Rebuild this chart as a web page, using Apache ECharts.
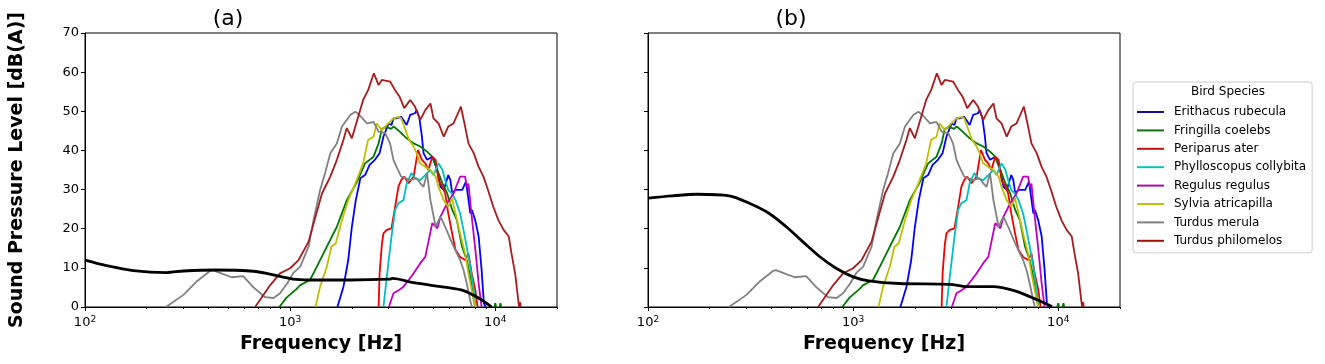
<!DOCTYPE html>
<html>
<head>
<meta charset="utf-8">
<script src="https://cdn.jsdelivr.net/npm/echarts@6/dist/echarts.min.js"></script>
<style>
  html, body { margin: 0; padding: 0; background: #fff; }
  #chart { width: 1325px; height: 364px; }
</style>
</head>
<body>
<div id="chart"></div>
<script>
// [frequency Hz, level dB(A)]
const erithacus = [[1700,0],[1820,5.2],[1920,12],[2000,20.5],[2090,27.3],[2200,32.9],[2320,33.7],[2440,36.3],[2590,37.6],[2730,39.3],[2850,43.5],[3020,46.9],[3120,46.5],[3190,48.2],[3300,48.2],[3480,48.6],[3700,46.5],[3850,49.1],[4060,49.5],[4140,50.3],[4270,48.2],[4390,43.5],[4470,39.3],[4650,37.6],[4930,38.4],[5220,35],[5410,30.7],[5610,29.9],[5900,33.7],[6040,32.4],[6170,29],[6400,29.9],[6900,29.9],[7200,32],[7560,23.9],[7700,24.8],[8000,22],[8300,18],[8580,9.5],[8800,1],[8980,0]];
const fringilla = [[886,0],[960,2.4],[1070,4.5],[1120,5.6],[1250,6.9],[1350,10.3],[1510,15.4],[1690,20.5],[1890,27.3],[2100,31.6],[2320,36.7],[2550,38.4],[2700,41.8],[2800,45.5],[2950,46],[3100,45.5],[3200,46.1],[3420,44.8],[3700,43.1],[4000,41.8],[4310,41],[4650,39.7],[4930,38.4],[5220,35],[5530,31.6],[5830,29],[6170,24.8],[6500,22.2],[6890,15.4],[7260,12],[7560,7.7],[7850,1.8],[8000,0],null,[9900,0],[10000,1],[10100,0],null,[10500,0],[10600,1],[10700,0]];
const periparus = [[2700,0],[2730,8.6],[2800,16],[2850,18.8],[2960,19.7],[3120,20.1],[3250,25.6],[3370,30.7],[3480,32.4],[3600,33.3],[3780,31.6],[4000,33.3],[4200,40.1],[4390,37.6],[4560,36.7],[4720,35],[4930,38.4],[5120,37.6],[5290,32.4],[5530,30.7],[5700,29],[5900,23.9],[6160,18.8],[6400,14.6],[6740,12.8],[7130,12],[7400,13.7],[7680,8.6],[8000,4.3],[8200,0]];
const phylloscopus = [[2850,0],[2960,7.7],[3120,18],[3250,24.8],[3370,26.5],[3570,27.3],[3700,31.6],[3900,34.2],[4060,32.9],[4310,32.4],[4560,33.7],[4830,35],[5000,33.7],[5290,36.7],[5530,35],[5700,32.4],[5900,29.9],[6160,29],[6400,27.3],[6740,23.9],[7000,19.7],[7260,15.4],[7560,10.3],[7850,4.3],[8020,0]];
const regulus = [[3030,0],[3190,3.5],[3380,4.3],[3570,5.2],[3780,6.9],[4000,8.6],[4310,11.2],[4560,12.8],[4930,21.4],[5220,20.1],[5410,23.1],[5830,26.5],[6260,29],[6740,33.3],[7130,33.3],[7260,30.7],[7400,31.5],[7680,23.1],[8000,14.6],[8300,6],[8580,0]];
const sylvia = [[1330,0],[1400,5.2],[1510,10.3],[1590,15.4],[1670,16.3],[1790,22.2],[1920,27.3],[2080,31.6],[2270,36.7],[2400,42.7],[2550,43.5],[2640,46.9],[2800,45.2],[2960,46.5],[3190,48.2],[3380,48.6],[3480,48.2],[3600,46.1],[3800,42.7],[4000,41],[4140,39.3],[4300,36.7],[4560,35.8],[4830,35],[5120,33.3],[5290,30.7],[5610,27.3],[5900,25.6],[6160,27.8],[6400,23.9],[6740,18.8],[7130,13.7],[7400,8.6],[7680,4.3],[8000,0]];
const turdusMerula = [[248,0],[302,3.1],[350,6.5],[407,9.2],[420,9.4],[472,8.4],[520,7.6],[590,7.9],[663,5],[755,2.5],[830,2.3],[893,3.5],[967,6],[1040,8.8],[1120,10.3],[1230,15.4],[1300,22.2],[1400,29.9],[1480,34.2],[1570,39.3],[1690,41.8],[1790,46.1],[1970,49.1],[2080,49.9],[2200,48.8],[2370,46.9],[2550,47.3],[2700,44.8],[2910,44.4],[3070,41.8],[3190,37.6],[3300,35.8],[3480,33.3],[3850,32.4],[4140,32.9],[4310,31.6],[4470,30.7],[4650,34.2],[4830,27.3],[5120,20.5],[5410,23.1],[5700,20.5],[6160,16.3],[6740,12],[7000,9.5],[7260,6],[7600,1],[7700,0]];
const turdusPhilomelos = [[675,0],[800,5.6],[893,8.6],[1000,9.9],[1100,12],[1230,16.7],[1330,23.1],[1430,29],[1570,33.3],[1690,37.6],[1820,42.7],[1890,45.7],[2000,43.1],[2100,46.9],[2270,52.9],[2400,55.4],[2560,59.7],[2700,56.7],[2800,58],[3070,57.6],[3250,55.4],[3420,53.7],[3600,50.8],[3850,52.9],[4060,51.2],[4310,47.8],[4560,50.3],[4830,52],[5000,48.2],[5290,46.9],[5610,43.5],[5900,46.1],[6260,46.9],[6580,49.5],[6800,51.2],[7130,46.1],[7400,41.8],[7850,39.3],[8300,35.8],[8760,33.3],[9220,29.9],[9780,25.6],[10360,22.2],[10980,19.7],[11640,18],[12000,13.7],[12500,8.6],[13000,0.9],[13100,0],[13250,1.2],[13300,0]];
const noiseA = [[100,12],[127,10.6],[172,9.3],[250,8.8],[302,9.2],[440,9.45],[638,9.2],[768,8.6],[1034,7.1],[1250,6.9],[1960,6.9],[3070,7.1],[3150,7.3],[4000,6.2],[5800,5],[7000,4.2],[8100,2.6],[9100,0.9],[9600,0]];
const noiseB = [[100,27.8],[131,28.4],[174,28.8],[249,28.4],[312,26.5],[390,23.9],[472,20.5],[568,16.7],[686,12.9],[826,9.9],[1000,7.7],[1190,6.7],[1680,6],[2960,5.8],[3580,5.2],[4830,5.2],[6100,4.2],[7300,2.6],[9150,0.3],[9300,0]];

const speciesNames = ['Erithacus rubecula','Fringilla coelebs','Periparus ater','Phylloscopus collybita','Regulus regulus','Sylvia atricapilla','Turdus merula','Turdus philomelos'];
const speciesData = [erithacus, fringilla, periparus, phylloscopus, regulus, sylvia, turdusMerula, turdusPhilomelos];
const lineColors = ['#0000ff','#007800','#ee0000','#00bfbf','#bf00bf','#bfbf00','#808080','#a51c1c'];
const legendColors = ['#10109a','#107010','#c01010','#10c0c0','#a010a0','#c0c010','#808080','#a01010'];
const majorTicks = [2, 3, 4];   // log10 of 1e2, 1e3, 1e4
const xMin = 2, xMax = Math.log10(20000);

const minorTicks = [];
[100, 1000, 10000].forEach(d => { for (let k = 2; k <= 9; k++) if (d * k <= 20000) minorTicks.push(Math.log10(d * k)); });

const toLog = arr => arr.map(p => p ? [Math.log10(p[0]), p[1]] : null);
const FONT = 'DejaVu Sans';

const grids = [
  { left: 85, top: 33, width: 472, height: 274 },
  { left: 648, top: 33, width: 472, height: 274 }
];

const xAxes = [], yAxes = [];
grids.forEach((g, i) => {
  xAxes.push({
    type: 'value', gridIndex: i, min: xMin, max: xMax, position: 'bottom',
    name: 'Frequency [Hz]', nameLocation: 'middle', nameGap: 27,
    nameTextStyle: { fontFamily: FONT, fontSize: 19, fontWeight: 'bold', color: '#000' },
    axisLine: { lineStyle: { color: '#000', width: 1 } },
    axisTick: { show: true, customValues: majorTicks, length: 4, lineStyle: { color: '#000' } },
    axisLabel: {
      customValues: majorTicks, margin: 8, color: '#000', fontFamily: FONT, fontSize: 13,
      formatter: v => '10{s|' + Math.round(v) + '}',
      rich: { s: { fontSize: 9, fontFamily: FONT, color: '#000', padding: [0, 0, 7, 0] } }
    },
    splitLine: { show: false }
  });
  xAxes.push({
    type: 'value', gridIndex: i, min: xMin, max: xMax, position: 'bottom',
    axisLine: { show: false },
    axisTick: { show: true, customValues: minorTicks, length: 2, lineStyle: { color: '#000' } },
    axisLabel: { show: false },
    splitLine: { show: false }
  });
  yAxes.push({
    type: 'value', gridIndex: i, min: 0, max: 70, interval: 10,
    name: i === 0 ? 'Sound Pressure Level [dB(A)]' : '',
    nameLocation: 'middle', nameGap: 58,
    nameTextStyle: { fontFamily: FONT, fontSize: 19, fontWeight: 'bold', color: '#000' },
    axisLine: { show: true, lineStyle: { color: '#000', width: 1 } },
    axisTick: { show: true, length: 4, lineStyle: { color: '#000' } },
    axisLabel: { show: i === 0, color: '#000', fontFamily: FONT, fontSize: 13, margin: 6 },
    splitLine: { show: false }
  });
});

const series = [];
[noiseA, noiseB].forEach((noise, i) => {
  speciesData.forEach((d, k) => {
    series.push({
      name: speciesNames[k], type: 'line', xAxisIndex: i * 2, yAxisIndex: i,
      data: toLog(d), showSymbol: false, symbol: 'none', animation: false,
      lineStyle: { color: lineColors[k], width: 1.8 }, itemStyle: { color: lineColors[k] }
    });
  });
  series.push({
    name: 'noise', type: 'line', xAxisIndex: i * 2, yAxisIndex: i,
    data: toLog(noise), showSymbol: false, symbol: 'none', animation: false, smooth: 0.3,
    lineStyle: { color: '#000', width: 2.8 }, itemStyle: { color: '#000' }
  });
});

const chart = echarts.init(document.getElementById('chart'));
chart.setOption({
  backgroundColor: '#fff',
  animation: false,
  title: [
    { text: '(a)', left: 223, top: 3, textAlign: 'center', textStyle: { fontFamily: FONT, fontSize: 22, fontWeight: 'normal', color: '#000' } },
    { text: '(b)', left: 786, top: 3, textAlign: 'center', textStyle: { fontFamily: FONT, fontSize: 22, fontWeight: 'normal', color: '#000' } },
    { text: 'Bird Species', left: 1223, top: 81, textAlign: 'center', textStyle: { fontFamily: FONT, fontSize: 12, fontWeight: 'normal', color: '#000' } }
  ],
  grid: grids.map(g => Object.assign({ show: true, borderColor: '#000', borderWidth: 1, backgroundColor: 'transparent' }, g)),
  xAxis: xAxes,
  yAxis: yAxes,
  legend: {
    orient: 'vertical', left: 1133, top: 82,
    padding: [24, 6, 6, 4], itemGap: 6.4, itemWidth: 27, itemHeight: 2, icon: 'rect',
    borderColor: '#cccccc', borderWidth: 1, borderRadius: 3,
    textStyle: { fontFamily: FONT, fontSize: 12, color: '#000', padding: [0, 0, 0, 5] },
    data: speciesNames.map((n, k) => ({ name: n, itemStyle: { color: legendColors[k] } })),
    selectedMode: false
  },
  series: series
});
</script>
</body>
</html>
